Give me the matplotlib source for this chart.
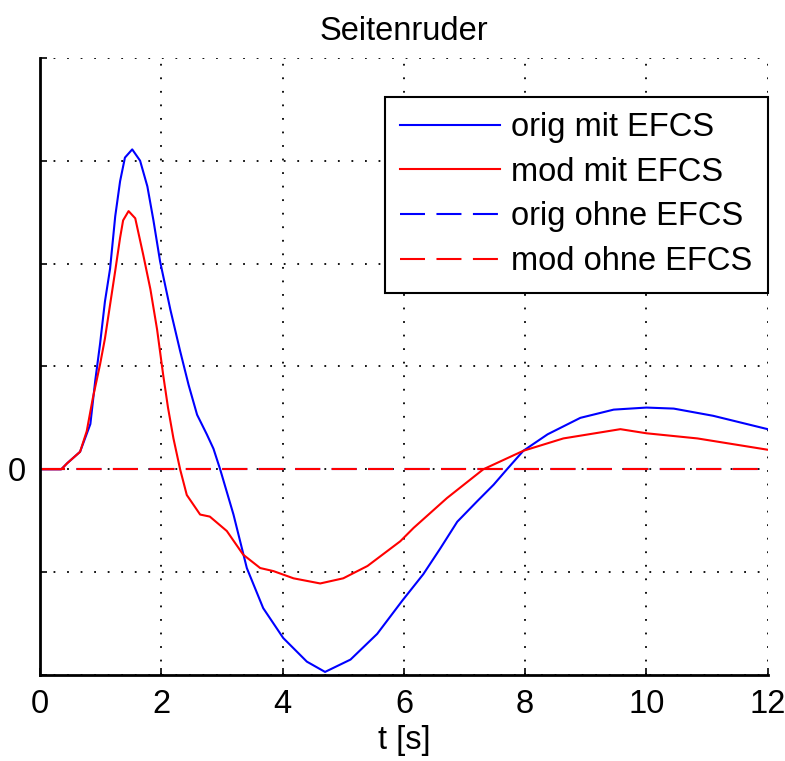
import numpy as np
import matplotlib.pyplot as plt

plt.rcParams['font.family'] = ['Liberation Sans', 'DejaVu Sans']

# orig mit EFCS
t_orig = [0, 0.35, 0.45, 0.66, 0.83, 0.91, 0.99, 1.07, 1.155, 1.24, 1.32, 1.40, 1.52, 1.65,
          1.77, 1.87, 1.98, 2.15, 2.31, 2.45, 2.59, 2.75, 2.86, 2.97, 3.19, 3.41, 3.68, 4.01,
          4.4, 4.7, 5.12, 5.56, 5.97, 6.32, 6.6, 6.88, 7.21, 7.48, 7.7, 7.97, 8.37, 8.91,
          9.46, 10.0, 10.45, 11.1, 12]
y_orig = [0, 0, 0.06, 0.17, 0.44, 0.86, 1.22, 1.63, 1.95, 2.46, 2.80, 3.03, 3.11, 3.0,
          2.75, 2.42, 2.02, 1.55, 1.15, 0.82, 0.53, 0.34, 0.2, 0.0, -0.44, -0.96, -1.35, -1.64,
          -1.87, -1.97, -1.85, -1.6, -1.28, -1.02, -0.77, -0.51, -0.31, -0.15, 0, 0.18, 0.34, 0.5,
          0.58, 0.60, 0.59, 0.52, 0.39]

# mod mit EFCS
t_mod = [0, 0.35, 0.45, 0.66, 0.77, 0.87, 0.99, 1.07, 1.155, 1.24, 1.32, 1.37, 1.46, 1.57,
         1.70, 1.82, 1.93, 2.03, 2.11, 2.2, 2.31, 2.42, 2.64, 2.8, 3.08, 3.35, 3.63, 3.85,
         4.18, 4.62, 5.0, 5.4, 5.94, 6.16, 6.71, 7.31, 7.97, 8.63, 9.57, 10.0, 10.84, 12]
y_mod = [0, 0, 0.06, 0.17, 0.37, 0.69, 1.02, 1.27, 1.6, 1.93, 2.25, 2.42, 2.51, 2.44,
         2.09, 1.75, 1.36, 0.92, 0.6, 0.3, 0, -0.25, -0.44, -0.46, -0.60, -0.83, -0.96, -0.99,
         -1.06, -1.11, -1.06, -0.94, -0.70, -0.57, -0.28, 0, 0.18, 0.30, 0.39, 0.35, 0.30, 0.19]

# ohne EFCS (both stay at zero)
t_ohne = [0, 12]
y_orig_ohne = [0, 0]
y_mod_ohne = [0, 0]

xticks = [0, 2, 4, 6, 8, 10, 12]
yticks = [-2, -1, 0, 1, 2, 3, 4]
ylabels = ['', '', '0', '', '', '', '']

fs = 23.5

fig = plt.figure(figsize=(7.85, 7.61), dpi=100)
ax = fig.add_axes([0.051, 0.113, 0.927, 0.811])

ax.plot(t_orig, y_orig, color='#0000ff', lw=1.5, label='orig mit EFCS')
ax.plot(t_mod, y_mod, color='#ff0000', lw=1.5, label='mod mit EFCS')
ax.plot(t_ohne, y_orig_ohne, color='#0000ff', lw=1.5, dashes=(12, 5.5), label='orig ohne EFCS')
ax.plot(t_ohne, y_mod_ohne, color='#ff0000', lw=1.5, dashes=(12, 5.5), label='mod ohne EFCS')

ax.set_xlim(0, 12)
ax.set_ylim(-2, 4)
ax.set_xticks(xticks)
ax.set_yticks(yticks)
ax.set_yticklabels(ylabels)
ax.tick_params(direction='in', length=5, width=1.2, labelsize=fs, pad=10)

ax.grid(True, color='black', linestyle=(0, (1, 6.5)), linewidth=1.3)
for s in ['top', 'right']:
    ax.spines[s].set_visible(False)
for s in ['left', 'bottom']:
    ax.spines[s].set_linewidth(2)

ax.set_title('Seitenruder', fontsize=fs, pad=13)
ax.set_xlabel('t [s]', fontsize=fs, labelpad=4)

leg = ax.legend(loc='upper right', bbox_to_anchor=(1.0, 0.937), borderaxespad=0,
                fontsize=fs, handlelength=3.07, handletextpad=0.34, labelspacing=0.42,
                borderpad=0.47, fancybox=False, framealpha=1)
leg.get_frame().set_edgecolor('black')
leg.get_frame().set_linewidth(1.5)

fig.savefig('out.png', dpi=100)
